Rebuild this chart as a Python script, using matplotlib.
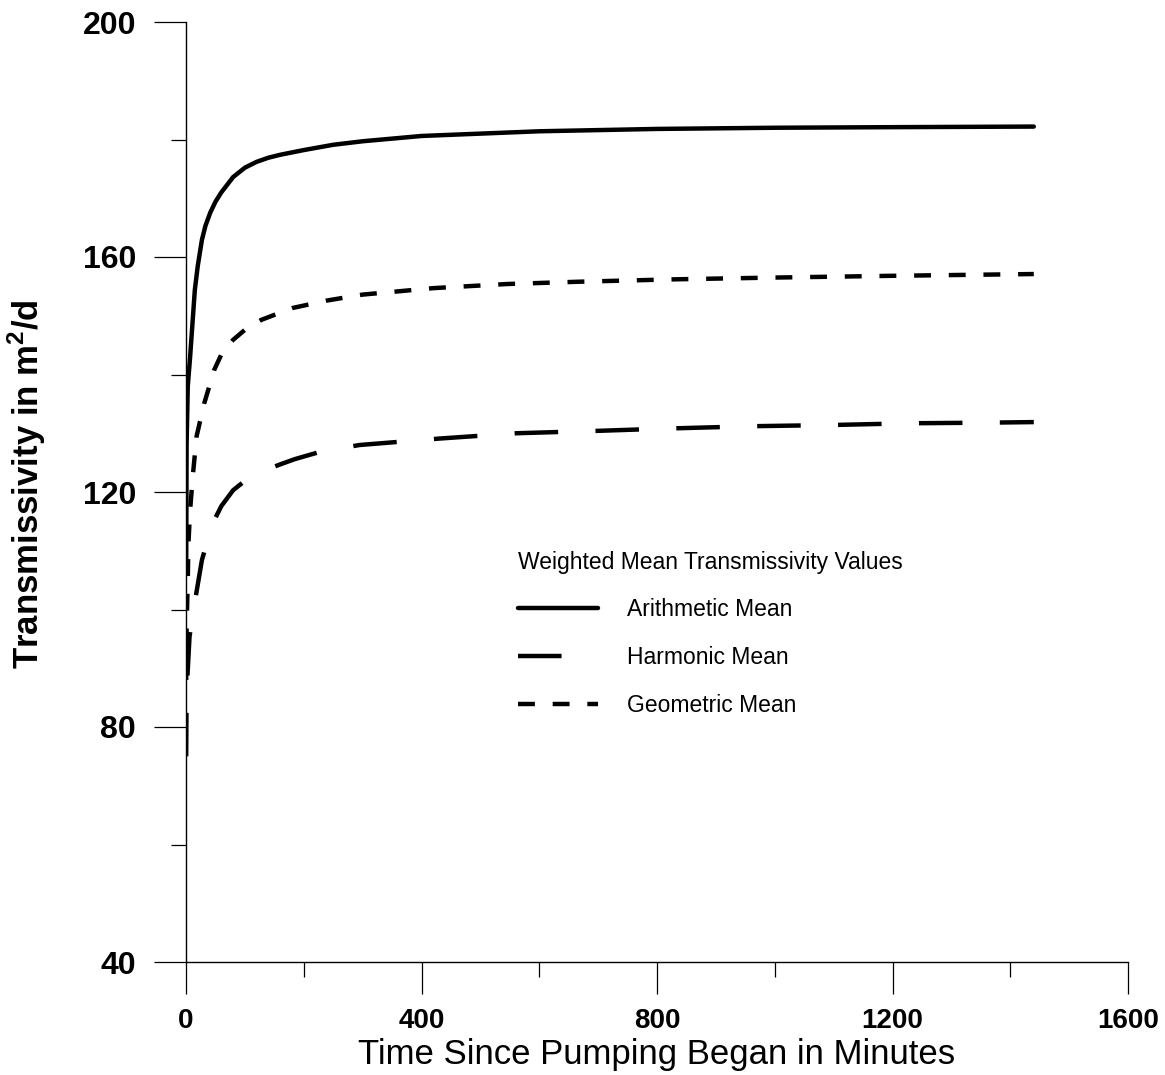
"""
Weighted mean transmissivity vs. time since pumping began
"""
import matplotlib
matplotlib.use("Agg")
import matplotlib.pyplot as plt
from matplotlib.ticker import MultipleLocator

plt.rcParams['font.family'] = ['Liberation Sans', 'DejaVu Sans']
plt.rcParams['mathtext.fontset'] = 'custom'
plt.rcParams['mathtext.rm'] = 'Liberation Sans'
plt.rcParams['mathtext.bf'] = 'Liberation Sans:bold'

# values (time in minutes, T in m2/d)
time_arith = [0.3, 1, 3, 7, 15, 20, 27, 33, 41, 50, 60, 80, 100, 120, 140,
              160, 200, 250, 300, 400, 600, 800, 1000, 1200, 1440]
arith_mean = [106, 128, 138, 143, 154.4, 158.5, 162.9, 165.3, 167.5, 169.4,
              171.0, 173.6, 175.2, 176.2, 176.9, 177.4, 178.2, 179.1, 179.7,
              180.6, 181.4, 181.8, 182.0, 182.1, 182.2]

time_harm = [0.3, 1, 6, 15, 27, 44, 60, 80, 100, 134, 160, 185, 230, 295,
             431, 561, 697, 816, 963, 1096, 1229, 1359, 1440]
harm_mean = [75, 86, 95.4, 101.3, 108.4, 114.4, 117.6, 120.3, 121.9, 123.7,
             124.7, 125.6, 126.9, 128.0, 129.1, 130.0, 130.4, 130.8, 131.2,
             131.4, 131.7, 131.8, 131.9]

time_geom = [0.3, 1, 3, 4, 7, 12, 18, 31, 48, 60, 80, 100, 128, 180, 240,
             300, 420, 545, 670, 830, 1000, 1200, 1440]
geom_mean = [88, 97, 105, 111, 117, 123.2, 129.5, 135.1, 140.8, 143.4, 145.9,
             147.6, 149.3, 151.3, 152.6, 153.6, 154.7, 155.4, 155.8, 156.2,
             156.5, 156.8, 157.1]

x_ticks = [0, 400, 800, 1200, 1600]
y_ticks = [40, 80, 120, 160, 200]

fig = plt.figure(figsize=(11.65, 10.75), dpi=100)
ax = fig.add_axes([186 / 1165, 1 - 962 / 1075, 942 / 1165, 940 / 1075])

lw = 3.2
ax.plot(time_arith, arith_mean, color='black', lw=lw,
        solid_capstyle='round', solid_joinstyle='round',
        label='Arithmetic Mean')
ax.plot(time_harm, harm_mean, color='black', lw=lw,
        dashes=(9.8, 8.4), label='Harmonic Mean')
ax.plot(time_geom, geom_mean, color='black', lw=lw,
        dashes=(3.8, 4.0), label='Geometric Mean')

ax.set_xlim(0, 1600)
ax.set_ylim(40, 200)
ax.set_xticks(x_ticks)
ax.set_yticks(y_ticks)
ax.xaxis.set_minor_locator(MultipleLocator(200))
ax.yaxis.set_minor_locator(MultipleLocator(20))

for side in ['top', 'right']:
    ax.spines[side].set_visible(False)
for side in ['left', 'bottom']:
    ax.spines[side].set_linewidth(1.0)

ax.tick_params(axis='both', which='major', direction='out', length=23,
               width=0.9)
ax.tick_params(axis='both', which='minor', direction='out', length=11,
               width=0.9)
ax.tick_params(axis='y', which='major', pad=13)
ax.tick_params(axis='x', which='major', pad=10)
for lab in ax.get_yticklabels():
    lab.set_fontsize(23)
    lab.set_fontweight('bold')
for lab in ax.get_xticklabels():
    lab.set_fontsize(20)
    lab.set_fontweight('bold')

ax.set_xlabel('Time Since Pumping Began in Minutes', fontsize=25)
ax.xaxis.set_label_coords(0.5, -0.081)
ax.set_ylabel(r'Transmissivity in m$^{\mathbf{2}}$/d', fontsize=25,
              fontweight='bold')
ax.yaxis.set_label_coords(-0.147, 0.508)

leg = ax.legend(loc='upper left', bbox_to_anchor=(0.3524, 0.4375),
                frameon=False, fontsize=16.5, title_fontsize=16.5,
                title='Weighted Mean Transmissivity Values',
                alignment='left', borderpad=0, borderaxespad=0,
                handlelength=3.5, handletextpad=1.25, labelspacing=1.08)

fig.savefig('out.png', dpi=100)
